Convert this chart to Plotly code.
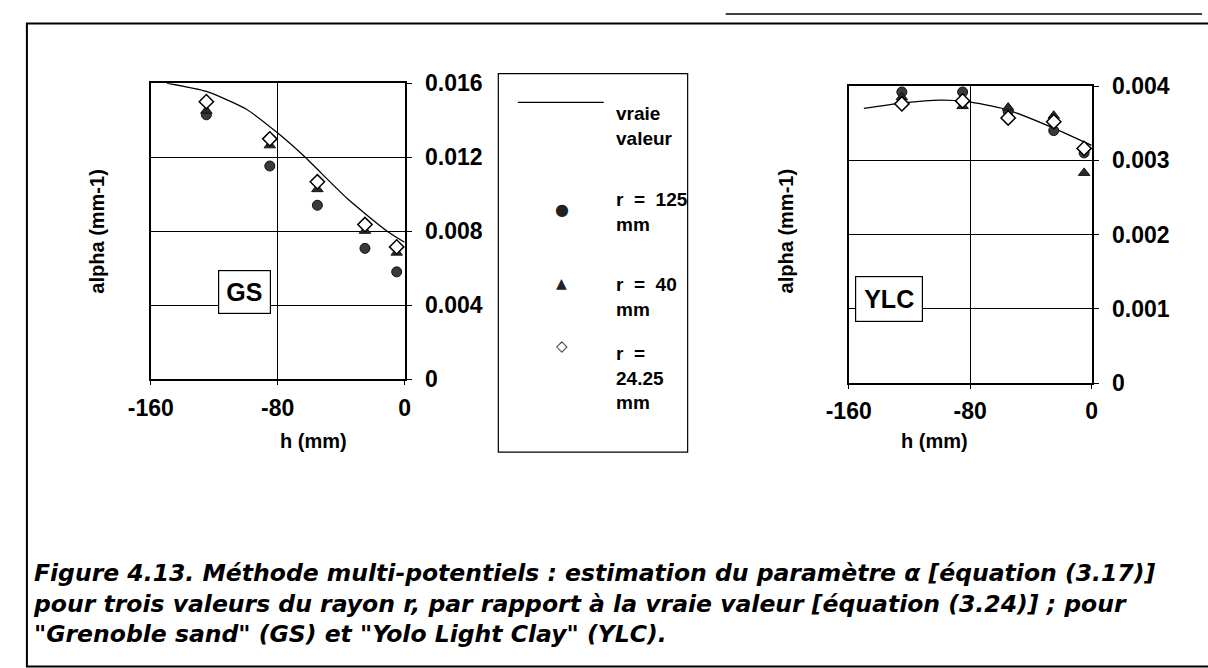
import plotly.graph_objects as go

# --- data ------------------------------------------------------------------
h_true_gs = [-150, -125, -100, -80, -64, -36, -11, 0]
alpha_true_gs = [0.0160, 0.01555, 0.0146, 0.0133, 0.0121, 0.00975, 0.0080, 0.0074]

h_meas = [-125, -85, -55, -25, -5]
gs_r125 = [0.01429, 0.01152, 0.0094, 0.00707, 0.0058]
gs_r40 = [0.01451, 0.01264, 0.01027, 0.00802, 0.00684]
gs_r2425 = [0.0150, 0.01299, 0.01067, 0.00836, 0.00715]

h_true_ylc = [-150, -125, -100, -82, -57, -27, 0]
alpha_true_ylc = [0.00370, 0.00377, 0.00381, 0.00379, 0.00369, 0.00345, 0.00320]

ylc_r125 = [0.00392, 0.00392, 0.00366, 0.00340, 0.00310]
ylc_r40 = [0.00385, 0.00373, 0.00371, 0.00360, 0.00283]
ylc_r2425 = [0.00376, 0.00380, 0.00357, 0.00352, 0.00316]

x_ticks = [-160, -80, 0]
gs_yticks = [0, 0.004, 0.008, 0.012, 0.016]
gs_ytext = ["0", "0.004", "0.008", "0.012", "0.016"]
ylc_yticks = [0, 0.001, 0.002, 0.003, 0.004]
ylc_ytext = ["0", "0.001", "0.002", "0.003", "0.004"]

series_names = ["vraie<br>valeur", "r  =  125<br>mm", "r  =  40<br>mm", "r  =<br>24.25<br>mm"]
caption_lines = [
    "Figure 4.13. Méthode multi-potentiels : estimation du paramètre α [équation (3.17)]",
    "pour trois valeurs du rayon r, par rapport à la vraie valeur [équation (3.24)] ; pour",
    "\"Grenoble sand\" (GS) et \"Yolo Light Clay\" (YLC).",
]

W, H = 1208, 668
FONT = "Arial, Liberation Sans, sans-serif"


def px(x):
    return x / W


def py(y):
    return 1 - y / H


fig = go.Figure()

circle = dict(symbol="circle", size=10, color="#3a3a3a", line=dict(color="#111", width=1))
triangle = dict(symbol="triangle-up", size=10, color="#2a2a2a", line=dict(color="#111", width=1))
diamond = dict(symbol="diamond", size=11, color="white", line=dict(color="black", width=1.5))

for xa, ya, ht, at, r1, r2, r3 in [
    ("x", "y", h_true_gs, alpha_true_gs, gs_r125, gs_r40, gs_r2425),
    ("x2", "y2", h_true_ylc, alpha_true_ylc, ylc_r125, ylc_r40, ylc_r2425),
]:
    fig.add_trace(go.Scatter(x=ht, y=at, mode="lines", xaxis=xa, yaxis=ya,
                             line=dict(color="black", width=1.3, shape="spline", smoothing=0.6),
                             showlegend=False))
    fig.add_trace(go.Scatter(x=h_meas, y=r1, mode="markers", xaxis=xa, yaxis=ya,
                             marker=circle, showlegend=False, cliponaxis=False))
    fig.add_trace(go.Scatter(x=h_meas, y=r2, mode="markers", xaxis=xa, yaxis=ya,
                             marker=triangle, showlegend=False, cliponaxis=False))
    fig.add_trace(go.Scatter(x=h_meas, y=r3, mode="markers", xaxis=xa, yaxis=ya,
                             marker=diamond, showlegend=False, cliponaxis=False))

tick_font = dict(family=FONT, size=23, color="black", weight=700)

xcommon = dict(range=[-160, 0], tickvals=x_ticks, ticktext=[str(v) for v in x_ticks],
               showgrid=True, gridcolor="black", gridwidth=1, zeroline=False,
               showline=True, linecolor="black", linewidth=1.5, mirror=True,
               ticks="outside", ticklen=4, tickcolor="black",
               tickfont=tick_font, ticklabelstandoff=3, fixedrange=True)
ycommon = dict(side="right", showgrid=True, gridcolor="black", gridwidth=1, zeroline=False,
               showline=True, linecolor="black", linewidth=1.5, mirror=True,
               ticks="outside", ticklen=6, tickcolor="black",
               tickfont=tick_font, ticklabelstandoff=8, fixedrange=True)

fig.update_layout(
    width=W, height=H, margin=dict(l=0, r=0, t=0, b=0),
    paper_bgcolor="white", plot_bgcolor="white",
    font=dict(family=FONT, color="black"),
    xaxis=dict(domain=[px(131), px(391)], anchor="y", **xcommon),
    yaxis=dict(domain=[py(381), py(73)], anchor="x", range=[0, 0.016],
               tickvals=gs_yticks, ticktext=gs_ytext, **ycommon),
    xaxis2=dict(domain=[px(846), px(1095)], anchor="y2", **xcommon),
    yaxis2=dict(domain=[py(385), py(76)], anchor="x2", range=[0, 0.004],
                tickvals=ylc_yticks, ticktext=ylc_ytext, **ycommon),
)

annotations = []
label_font = dict(family=FONT, size=20, color="black", weight=700)
for xl, xc in [(63, 261), (782, 970)]:
    annotations.append(dict(text="alpha (mm-1)", textangle=-90, x=px(xl), y=py(227),
                            xref="paper", yref="paper", showarrow=False, font=label_font))
    annotations.append(dict(text="h (mm)", x=px(xc), y=py(459), xref="paper", yref="paper",
                            showarrow=False, font=label_font))

box_font = dict(family=FONT, size=25, color="black", weight=700)
annotations.append(dict(text="GS", x=px(200), y=py(290), xref="paper", yref="paper",
                        showarrow=False, font=box_font, bgcolor="white",
                        bordercolor="black", borderwidth=1.2, borderpad=7))
annotations.append(dict(text="YLC", x=px(922), y=py(298), xref="paper", yref="paper",
                        showarrow=False, font=box_font, bgcolor="white",
                        bordercolor="black", borderwidth=1.2, borderpad=8))

# legend (drawn by hand, the reference uses a wide boxed legend)
leg_font = dict(family=FONT, size=19, color="black", weight=700)
leg_rows = [103, 192, 280, 352]
for name, yr in zip(series_names, leg_rows):
    annotations.append(dict(text=name, x=px(606), y=py(yr - 11), xref="paper", yref="paper",
                            xanchor="left", yanchor="top", align="left", showarrow=False,
                            font=leg_font))
for sym, yr, sz in [("●", 192, 16), ("▲", 281, 14), ("◇", 346, 15)]:
    annotations.append(dict(text=sym, x=px(552), y=py(yr), xref="paper", yref="paper",
                            showarrow=False, font=dict(family="DejaVu Sans", size=sz, color="#222")))

# caption as one block so the lines keep a fixed spacing
cap_font = dict(family="DejaVu Sans", size=23.5, color="black", weight=700, style="italic")
annotations.append(dict(text="<br>".join(caption_lines), x=px(8), y=py(566), xref="paper",
                        yref="paper", xanchor="left", yanchor="top", align="left",
                        showarrow=False, font=cap_font))

shapes = [
    dict(type="rect", xref="paper", yref="paper", x0=px(487), x1=px(681), y0=py(457), y1=py(63),
         line=dict(color="black", width=1.2)),
    dict(type="line", xref="paper", yref="paper", x0=px(507), x1=px(595), y0=py(93), y1=py(93),
         line=dict(color="black", width=1.2)),
    dict(type="rect", xref="paper", yref="paper", x0=px(4), x1=px(1220), y0=py(680), y1=py(11),
         line=dict(color="black", width=2)),
    dict(type="line", xref="paper", yref="paper", x0=px(720), x1=px(1208), y0=py(1), y1=py(1),
         line=dict(color="black", width=1.5)),
]

fig.update_layout(annotations=annotations, shapes=shapes)

# page body has an 8px default margin; remove it so the figure sits at 0,0
fig.write_html("out.html", config={"displayModeBar": False},
               post_script="document.body.style.margin='0px';")
